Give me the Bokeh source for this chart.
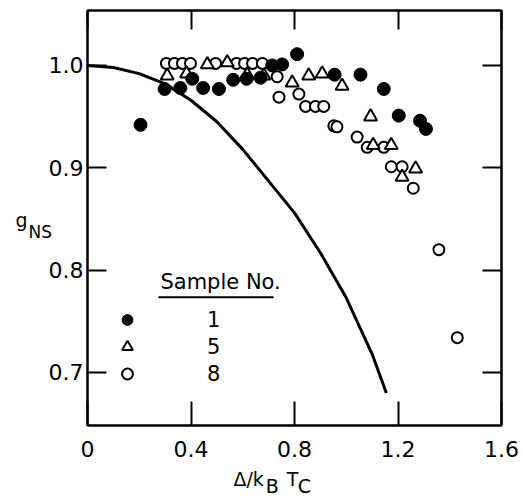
from bokeh.plotting import figure
from bokeh.models import (Range1d, FixedTicker, LinearAxis, Label, Legend, LegendItem)
from bokeh.embed import file_html
from bokeh.resources import INLINE

# ---- data ----
x_ticks = [0, 0.4, 0.8, 1.2, 1.6]
x_tick_labels = ["0", "0.4", "0.8", "1.2", "1.6"]
y_ticks = [0.7, 0.8, 0.9, 1.0]
y_tick_labels = ["0.7", "0.8", "0.9", "1.0"]

s1_x = [0.205, 0.298, 0.359, 0.405, 0.447, 0.508, 0.563, 0.615, 0.669, 0.714, 0.752,
        0.810, 0.955, 1.055, 1.145, 1.203, 1.285, 1.308]
s1_y = [0.942, 0.977, 0.978, 0.987, 0.978, 0.977, 0.986, 0.987, 0.988, 1.000, 1.001,
        1.011, 0.991, 0.991, 0.977, 0.951, 0.946, 0.938]

s5_x = [0.308, 0.383, 0.463, 0.540, 0.617, 0.682, 0.791, 0.855, 0.907, 0.984,
        1.094, 1.104, 1.174, 1.216, 1.268]
s5_y = [0.990, 0.992, 1.001, 1.003, 0.991, 0.990, 0.983, 0.990, 0.992, 0.980,
        0.950, 0.922, 0.922, 0.891, 0.899]

s8_x = [0.305, 0.336, 0.367, 0.398, 0.495, 0.576, 0.607, 0.638, 0.676, 0.733,
        0.740, 0.817, 0.843, 0.881, 0.913, 0.952, 0.964, 1.042, 1.081, 1.145,
        1.174, 1.216, 1.259, 1.358, 1.429]
s8_y = [1.002, 1.002, 1.002, 1.002, 1.002, 1.002, 1.002, 1.002, 1.002, 0.989,
        0.969, 0.972, 0.960, 0.960, 0.960, 0.941, 0.940, 0.930, 0.920, 0.920,
        0.901, 0.901, 0.880, 0.820, 0.734]

curve_x = [0.0, 0.1, 0.2, 0.3, 0.4, 0.5, 0.6, 0.7, 0.8, 0.9, 1.0, 1.1, 1.155]
curve_y = [1.0, 0.998, 0.992, 0.982, 0.966, 0.945, 0.918, 0.887, 0.856, 0.817, 0.773, 0.718, 0.680]

FONT = "DejaVu Sans"

p = figure(width=523, height=498, output_backend="svg", toolbar_location=None,
           x_range=Range1d(0, 1.6), y_range=Range1d(0.6482, 1.0537),
           min_border_left=87, min_border_right=22, min_border_top=10, min_border_bottom=73,
           x_axis_location=None, y_axis_location=None)
p.xgrid.visible = False
p.ygrid.visible = False
p.outline_line_color = "black"
p.outline_line_width = 2
p.background_fill_color = "white"
p.border_fill_color = "white"


def style_axis(ax, ticks, labels, tick_len, show_labels):
    ax.ticker = FixedTicker(ticks=ticks)
    ax.axis_line_color = "black"
    ax.axis_line_width = 2
    ax.major_tick_line_color = "black"
    ax.major_tick_line_width = 2
    ax.major_tick_in = tick_len
    ax.major_tick_out = 0
    ax.minor_tick_line_color = None
    ax.major_label_text_font = FONT
    if show_labels:
        ax.major_label_overrides = {t: l for t, l in zip(ticks, labels)}
        ax.major_label_text_color = "black"
        ax.major_label_text_font_size = "22px"
    else:
        ax.major_label_text_color = None
        ax.major_label_text_font_size = "1px"
        ax.major_label_standoff = 0


bx = LinearAxis()
style_axis(bx, x_ticks, x_tick_labels, 24, True)
bx.major_label_standoff = 15
p.add_layout(bx, "below")
tx = LinearAxis()
style_axis(tx, x_ticks, x_tick_labels, 19, False)
p.add_layout(tx, "above")
ly = LinearAxis()
style_axis(ly, y_ticks, y_tick_labels, 19, True)
ly.major_label_standoff = 4
p.add_layout(ly, "left")
ry = LinearAxis()
style_axis(ry, y_ticks, y_tick_labels, 19, False)
p.add_layout(ry, "right")

# theory curve
p.line(curve_x, curve_y, line_color="black", line_width=3)

# data
r8 = p.scatter(s8_x, s8_y, marker="circle", size=11, fill_color="white",
               line_color="black", line_width=2)
r5 = p.scatter(s5_x, s5_y, marker="triangle", size=13, fill_color="white",
               line_color="black", line_width=2)
r1 = p.scatter(s1_x, s1_y, marker="circle", size=13, fill_color="black",
               line_color="black", line_width=1)

legend = Legend(items=[LegendItem(label="1", renderers=[r1]),
                       LegendItem(label="5", renderers=[r5]),
                       LegendItem(label="8", renderers=[r8])],
                location=(25, 38), label_standoff=65, glyph_width=30, glyph_height=27,
                label_height=20, spacing=0, padding=0, margin=0,
                label_text_font=FONT, label_text_font_size="21px",
                label_text_color="black",
                border_line_alpha=0, background_fill_alpha=0)
p.add_layout(legend)

# legend title, underlined
p.add_layout(Label(x=0.282, y=0.7888, text="Sample No.", text_font=FONT,
                   text_font_size="21px", text_color="black", text_baseline="alphabetic"))
p.segment(x0=[0.274], y0=[0.7735], x1=[0.719], y1=[0.7735], line_color="black", line_width=2)

# axis titles (placed in the side panels so they are not clipped to the frame)
xt = Label(x=0.564, y=0.5921, text="Δ/k\u2003\u2009T\n\u2003\u2002\u2009B\u2002\u2002C",
           text_font=FONT, text_font_size="19px", text_color="black",
           text_baseline="alphabetic", text_line_height=0.32)
p.add_layout(xt, "below")
g1 = Label(x=-0.2783, y=0.8494, text="g", text_font=FONT, text_font_size="19px",
           text_color="black", text_baseline="alphabetic")
p.add_layout(g1, "left")
g2 = Label(x=-0.228, y=0.8377, text="NS", text_font=FONT, text_font_size="17px",
           text_color="black", text_baseline="alphabetic")
p.add_layout(g2, "left")

open("out.html", "w").write(file_html(p, INLINE))
